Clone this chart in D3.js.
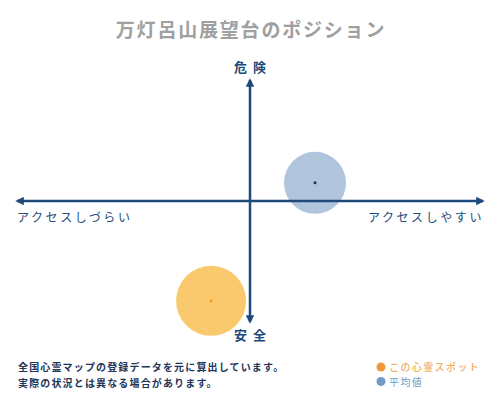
<!DOCTYPE html>
<html>
<head>
<meta charset="utf-8">
<script src="https://cdn.jsdelivr.net/npm/d3@7"></script>
<style>
    body { margin: 0; background: #fff; }
    svg { display: block; }
    text { font-family: "Noto Sans CJK JP", "Noto Sans", sans-serif; }
</style>
</head>
<body>
<div id="chart"></div>
<script>
// chart data
const titleText = "万灯呂山展望台のポジション";
const axisLabels = ["アクセスしづらい", "アクセスしやすい", "危険", "安全"];
const pointNames = ["この心霊スポット", "平均値"];
const pointX = [-16.7, 27.9];   // access: -100 hard .. 100 easy
const pointY = [-82.5, 15];     // danger: -100 safe .. 100 danger
const pointSize = [35, 31];
const pointFill = ["#fbc96d", "#b0c4dc"];
const pointDot = ["#f0a21e", "#1d3150"];
const legendColors = ["#ef9a3a", "#6f9cc6"];
const noteLines = ["全国心霊マップの登録データを元に算出しています。", "実際の状況とは異なる場合があります。"];

const width = 500, height = 400;
const navy = "#1d4a7b";

const svg = d3.select("#chart").append("svg")
    .attr("width", width)
    .attr("height", height);

const x = d3.scaleLinear().domain([-100, 100]).range([17, 483]);
const y = d3.scaleLinear().domain([-100, 100]).range([322, 80]);

// title
svg.append("text")
    .attr("x", width / 2 + 1)
    .attr("y", 37)
    .attr("text-anchor", "middle")
    .attr("font-size", 19)
    .attr("font-weight", "bold")
    .attr("letter-spacing", 1.8)
    .attr("fill", "#a0a0a0")
    .text(titleText);

// circles
const pts = pointX.map((v, i) => ({ x: v, y: pointY[i], r: pointSize[i], fill: pointFill[i], dot: pointDot[i] }));

svg.selectAll(".bubble")
    .data(pts)
    .enter()
    .append("circle")
    .attr("class", "bubble")
    .attr("cx", d => x(d.x))
    .attr("cy", d => y(d.y))
    .attr("r", d => d.r)
    .attr("fill", d => d.fill);

// arrow marker
const defs = svg.append("defs");
defs.append("marker")
    .attr("id", "arrow")
    .attr("viewBox", "0 0 10 10")
    .attr("refX", 8)
    .attr("refY", 5)
    .attr("markerWidth", 3.4)
    .attr("markerHeight", 3.4)
    .attr("orient", "auto-start-reverse")
    .append("path")
    .attr("d", "M0,0 L10,5 L0,10 Z")
    .attr("fill", navy);

// axes
svg.append("line")
    .attr("x1", x(-100)).attr("x2", x(100))
    .attr("y1", y(0)).attr("y2", y(0))
    .attr("stroke", navy)
    .attr("stroke-width", 2.5)
    .attr("marker-start", "url(#arrow)")
    .attr("marker-end", "url(#arrow)");

svg.append("line")
    .attr("x1", x(0)).attr("x2", x(0))
    .attr("y1", y(-100)).attr("y2", y(100))
    .attr("stroke", navy)
    .attr("stroke-width", 2.5)
    .attr("marker-start", "url(#arrow)")
    .attr("marker-end", "url(#arrow)");

// center dots
svg.selectAll(".dot")
    .data(pts)
    .enter()
    .append("circle")
    .attr("class", "dot")
    .attr("cx", d => x(d.x))
    .attr("cy", d => y(d.y))
    .attr("r", 1.5)
    .attr("fill", d => d.dot);

// axis labels
svg.append("text")
    .attr("x", x(-100))
    .attr("y", y(0) + 21)
    .attr("font-size", 12)
    .attr("letter-spacing", 2.6)
    .attr("fill", navy)
    .text(axisLabels[0]);

svg.append("text")
    .attr("x", x(100) + 1)
    .attr("y", y(0) + 21)
    .attr("text-anchor", "end")
    .attr("font-size", 12)
    .attr("letter-spacing", 2.6)
    .attr("fill", navy)
    .text(axisLabels[1]);

svg.append("text")
    .attr("x", x(0) + 3)
    .attr("y", 72)
    .attr("text-anchor", "middle")
    .attr("font-size", 13)
    .attr("font-weight", "bold")
    .attr("letter-spacing", 6)
    .attr("fill", navy)
    .text(axisLabels[2]);

svg.append("text")
    .attr("x", x(0) + 3)
    .attr("y", 340)
    .attr("text-anchor", "middle")
    .attr("font-size", 13)
    .attr("font-weight", "bold")
    .attr("letter-spacing", 6)
    .attr("fill", navy)
    .text(axisLabels[3]);

// footnote
svg.selectAll(".note")
    .data(noteLines)
    .enter()
    .append("text")
    .attr("class", "note")
    .attr("x", 18)
    .attr("y", (d, i) => 371 + i * 16)
    .attr("font-size", 10)
    .attr("font-weight", "bold")
    .attr("letter-spacing", 1.15)
    .attr("fill", "#1d3557")
    .text(d => d);

// legend
const legend = svg.selectAll(".legend")
    .data(pointNames)
    .enter()
    .append("g")
    .attr("class", "legend")
    .attr("transform", (d, i) => `translate(381, ${367 + i * 14.5})`);

legend.append("circle")
    .attr("r", 4.5)
    .attr("fill", (d, i) => legendColors[i]);

legend.append("text")
    .attr("x", 8)
    .attr("y", 4)
    .attr("font-size", 10)
    .attr("letter-spacing", 1.4)
    .attr("fill", (d, i) => legendColors[i])
    .text(d => d);
</script>
</body>
</html>
